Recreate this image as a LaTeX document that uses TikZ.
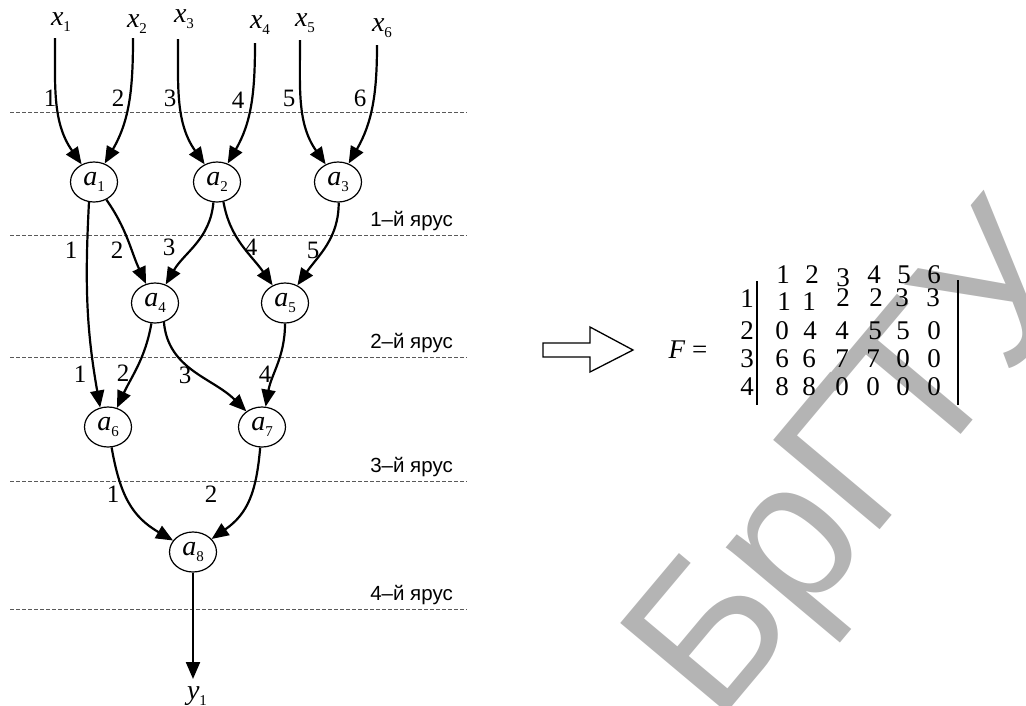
\documentclass[tikz,border=0pt]{standalone}
\usepackage{fontspec}
\setmainfont{Liberation Serif}
\newfontfamily\tiersans{Liberation Sans}
\usetikzlibrary{arrows.meta,shapes.geometric}
\definecolor{wmgray}{RGB}{180,180,180}

% italic letter with a lowered index
\newcommand{\ivar}[2]{\textit{#1}\raisebox{-0.22em}{\fontsize{15}{15}\selectfont #2}}

\begin{document}
\begin{tikzpicture}[x=1pt,y=1pt,
  vert/.style={ellipse,draw,line width=1.2pt,minimum width=47pt,minimum height=40pt,
    inner sep=0pt,font=\fontsize{28}{28}\selectfont},
  edge/.style={line width=2.2pt,-{Triangle[length=17pt,width=14pt]}},
  vlab/.style={inner sep=0pt,font=\fontsize{28}{28}\selectfont},
  num/.style={inner sep=0pt,font=\fontsize{25}{25}\selectfont},
  tierline/.style={dash pattern=on 4pt off 2pt,line width=0.8pt,draw=black!65},
  tierlab/.style={inner sep=0pt,anchor=base east,font=\tiersans\fontsize{20.5}{20.5}\selectfont},
  mat/.style={inner sep=0pt,font=\fontsize{27}{27}\selectfont},
  wmletter/.style={inner sep=0pt,anchor=base west,transform shape,text=wmgray,
    font=\tiersans\fontsize{202}{202}\selectfont},
]
\useasboundingbox (0,0) rectangle (1026,-705);

% watermark, letters along a slanted baseline
\begin{scope}[shift={(716.3,-725.7)},rotate=50]
  \node[wmletter] (wm1) at (0,0) {Б};
  \node[wmletter] (wm2) at (129.5,0) {р};
  \node[wmletter] (wm3) at (238.8,0) {Г};
  \node[wmletter] (wm4) at (328.3,0) {Т};
  \node[wmletter] (wm5) at (452.7,0) {У};
\end{scope}

% tier boundaries
\foreach \yy in {112,235,357,481,609}
  \draw[tierline] (10,-\yy) -- (467,-\yy);
\node[tierlab] (t1) at (453,-226) {1–й ярус};
\node[tierlab] (t2) at (453,-348) {2–й ярус};
\node[tierlab] (t3) at (453,-472) {3–й ярус};
\node[tierlab] (t4) at (453,-600) {4–й ярус};

% inputs
\node[vlab] (x1) at (61,-22) {\ivar{x}{1}};
\node[vlab] (x2) at (137,-24) {\ivar{x}{2}};
\node[vlab] (x3) at (184,-19) {\ivar{x}{3}};
\node[vlab] (x4) at (260,-25) {\ivar{x}{4}};
\node[vlab] (x5) at (305,-23) {\ivar{x}{5}};
\node[vlab] (x6) at (382,-28) {\ivar{x}{6}};
\coordinate (s1) at (55,-38);
\coordinate (s2) at (133,-38);
\coordinate (s3) at (178,-39);
\coordinate (s4) at (255,-43);
\coordinate (s5) at (300,-40);
\coordinate (s6) at (377,-45);

% operators
\node[vert] (a1) at (94,-182) {\ivar{a}{1}};
\node[vert] (a2) at (217,-182) {\ivar{a}{2}};
\node[vert] (a3) at (338,-182) {\ivar{a}{3}};
\node[vert] (a4) at (155,-303) {\ivar{a}{4}};
\node[vert] (a5) at (285,-303) {\ivar{a}{5}};
\node[vert] (a6) at (108,-427) {\ivar{a}{6}};
\node[vert] (a7) at (262,-427) {\ivar{a}{7}};
\node[vert] (a8) at (193,-552) {\ivar{a}{8}};

% output
\node[vlab] (y1) at (197,-696) {\ivar{y}{1}};
\coordinate (yend) at (193,-679);

% arcs
\draw[edge] (s1) to[out=-90,in=125] (a1);
\draw[edge] (s2) to[out=-90,in=60] (a1);
\draw[edge] (s3) to[out=-90,in=125] (a2);
\draw[edge] (s4) to[out=-90,in=60] (a2);
\draw[edge] (s5) to[out=-90,in=125] (a3);
\draw[edge] (s6) to[out=-90,in=60] (a3);
\draw[edge] (a1.-104) to[out=-93,in=100] (a6.112);
\draw[edge] (a1.-55) to[out=-55,in=115] (a4);
\draw[edge] (a2.-100) to[out=-95,in=60] (a4);
\draw[edge] (a2.-72) to[out=-80,in=125] (a5);
\draw[edge] (a3.-88) to[out=-90,in=55] (a5);
\draw[edge] (a4.-100) to[out=-100,in=65] (a6);
\draw[edge] (a4.-65) to[out=-85,in=135] (a7);
\draw[edge] (a5.-90) to[out=-90,in=80] (a7);
\draw[edge] (a6.-80) to[out=-80,in=150,looseness=1.1] (a8);
\draw[edge] (a7.-95) to[out=-95,in=35,looseness=1.1] (a8);
\draw[edge] (a8) -- (yend);

% arc numbers
\node[num] (n11) at (50,-98) {1};
\node[num] (n12) at (118,-98) {2};
\node[num] (n13) at (170,-98) {3};
\node[num] (n14) at (238,-100) {4};
\node[num] (n15) at (289,-98) {5};
\node[num] (n16) at (360,-98) {6};
\node[num] (n21) at (71,-250) {1};
\node[num] (n22) at (117,-250) {2};
\node[num] (n23) at (169,-247) {3};
\node[num] (n24) at (251,-247) {4};
\node[num] (n25) at (313,-250) {5};
\node[num] (n31) at (80,-374) {1};
\node[num] (n32) at (123,-373) {2};
\node[num] (n33) at (185,-375) {3};
\node[num] (n34) at (265,-374) {4};
\node[num] (n41) at (113,-494) {1};
\node[num] (n42) at (211,-494) {2};

% transition arrow
\draw[line width=1.3pt,line join=miter]
  (543,-343) -- (590,-343) -- (590,-327) -- (633,-350) -- (590,-372)
  -- (590,-357) -- (543,-357) -- cycle;

% matrix F
\node[mat] (F) at (688,-350) {\textit{F} =};
\draw[line width=1.1pt] (757,-281) -- (757,-405);
\draw[line width=1.1pt] (958,-280) -- (958,-405);
% column numbers
\node[mat] (h1) at (783,-275) {1};
\node[mat] (h2) at (812,-275) {2};
\node[mat] (h3) at (843,-278) {3};
\node[mat] (h4) at (874,-275) {4};
\node[mat] (h5) at (904,-275) {5};
\node[mat] (h6) at (934,-275) {6};
% row numbers
\node[mat] (r1) at (747,-299) {1};
\node[mat] (r2) at (747,-331) {2};
\node[mat] (r3) at (747,-359) {3};
\node[mat] (r4) at (747,-387) {4};
% entries
\node[mat] (m11) at (784,-302) {1};
\node[mat] (m12) at (809,-302) {1};
\node[mat] (m13) at (843,-298) {2};
\node[mat] (m14) at (876,-298) {2};
\node[mat] (m15) at (902,-298) {3};
\node[mat] (m16) at (933,-298) {3};
\node[mat] (m21) at (782,-331) {0};
\node[mat] (m22) at (810,-331) {4};
\node[mat] (m23) at (842,-331) {4};
\node[mat] (m24) at (875,-331) {5};
\node[mat] (m25) at (903,-331) {5};
\node[mat] (m26) at (934,-331) {0};
\node[mat] (m31) at (782,-359) {6};
\node[mat] (m32) at (809,-359) {6};
\node[mat] (m33) at (842,-359) {7};
\node[mat] (m34) at (873,-359) {7};
\node[mat] (m35) at (903,-359) {0};
\node[mat] (m36) at (934,-359) {0};
\node[mat] (m41) at (782,-387) {8};
\node[mat] (m42) at (809,-387) {8};
\node[mat] (m43) at (842,-387) {0};
\node[mat] (m44) at (873,-387) {0};
\node[mat] (m45) at (903,-387) {0};
\node[mat] (m46) at (934,-387) {0};
\end{tikzpicture}
\end{document}
